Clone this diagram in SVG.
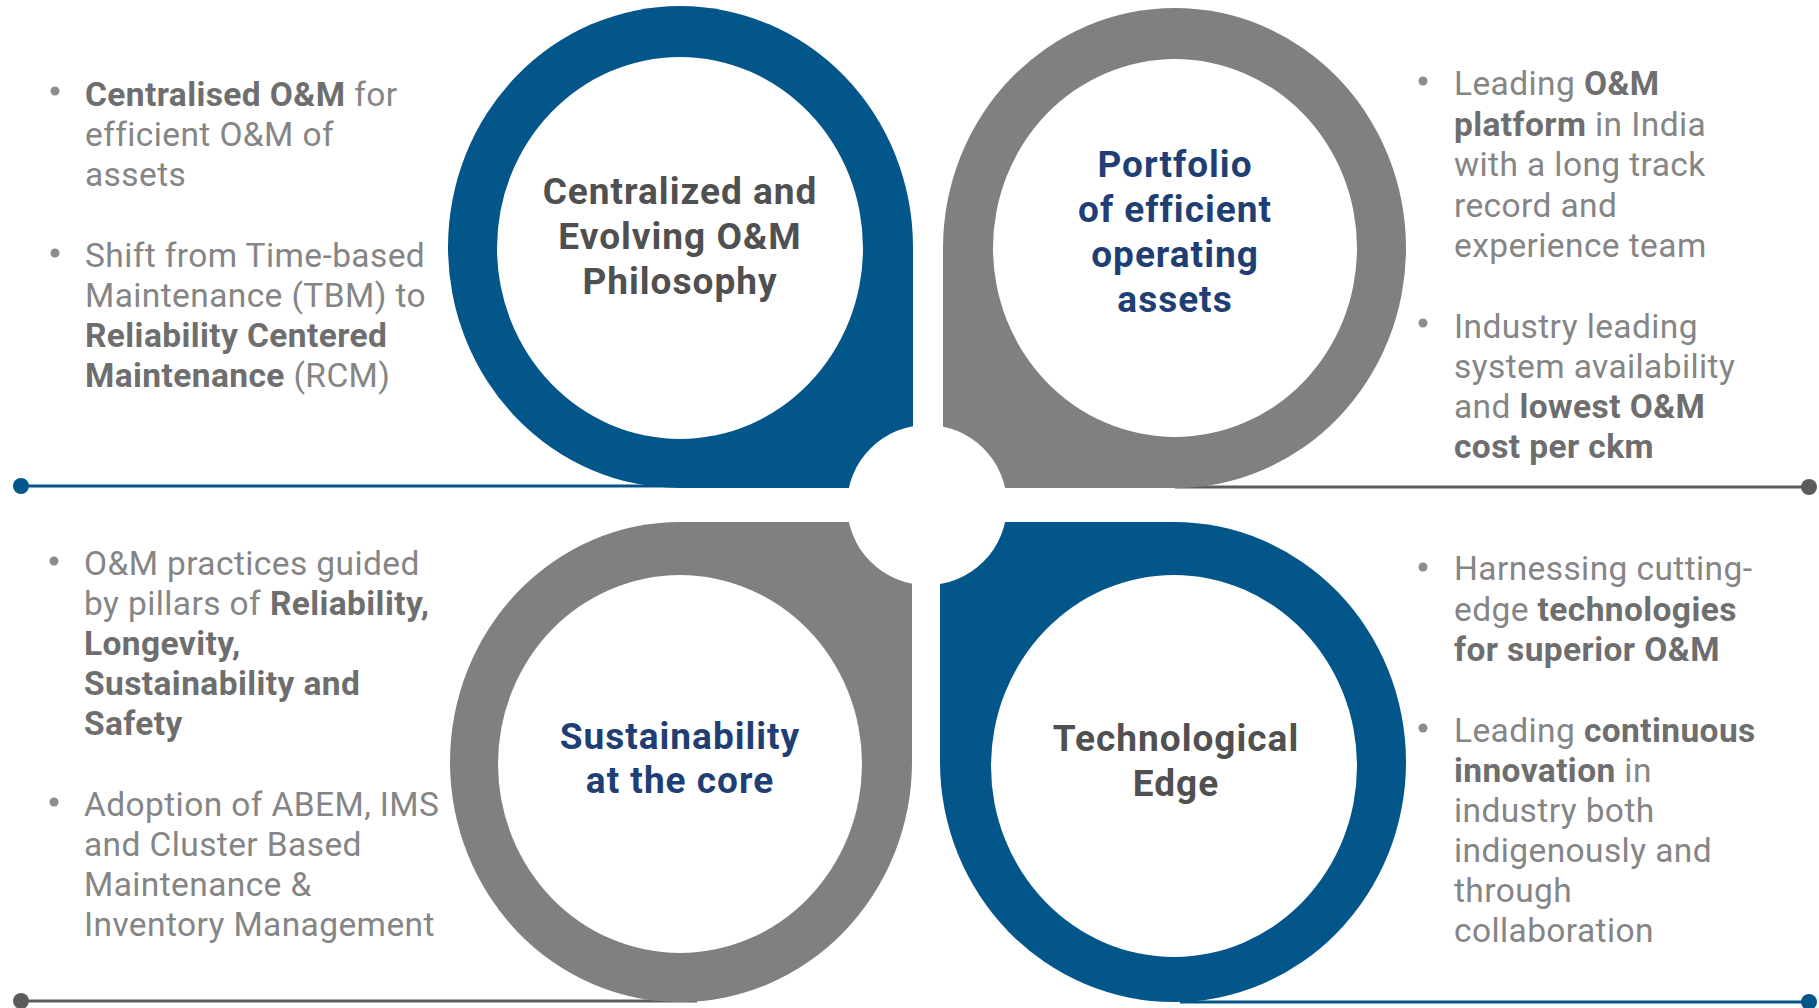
<svg xmlns="http://www.w3.org/2000/svg" width="1819" height="1008" viewBox="0 0 1819 1008">
<style>
.t{font-family:Roboto,"Liberation Sans",sans-serif;font-size:33.5px;letter-spacing:0.4px;fill:#858585;}
.b{font-weight:700;fill:#6e6e6e;}
.h{font-family:Roboto,"Liberation Sans",sans-serif;font-size:37px;letter-spacing:1px;font-weight:700;text-anchor:middle;}
.hg{fill:#505050;}
.hn{fill:#1f3f74;}
.blue{fill:#03568a;}
.gray{fill:#808080;}
.hole{fill:#ffffff;}
.dot{fill:#8c8c8c;}
.lb{stroke:#03568a;stroke-width:3;fill:none;}
.lg{stroke:#5c5c5c;stroke-width:3;fill:none;}
.eb{fill:#03568a;}
.eg{fill:#5c5c5c;}
</style>
<rect width="1819" height="1008" fill="#ffffff"/>
<g id="connectors">
  <line class="lb" x1="21" y1="486" x2="680" y2="486"/>
  <circle class="eb" cx="21" cy="486" r="8"/>
  <line class="lg" x1="1175" y1="487" x2="1809" y2="487"/>
  <circle class="eg" cx="1809" cy="487" r="8"/>
  <line class="lg" x1="21" y1="1001" x2="697" y2="1001"/>
  <circle class="eg" cx="21" cy="1001" r="8"/>
  <line class="lb" x1="1180" y1="1002" x2="1809" y2="1002"/>
  <circle class="eb" cx="1809" cy="1002" r="8"/>
</g>
<g id="node-centralized">
  <path class="blue" d="M680,6 A232,241 0 0 0 448,247 A232,241 0 0 0 680,488 L913,488 L913,247 A233,241 0 0 0 680,6 Z"/>
  <ellipse class="hole" cx="680" cy="248" rx="183" ry="191"/>
  <text class="h hg" x="680" y="204">Centralized and</text>
  <text class="h hg" x="680" y="249">Evolving O&amp;M</text>
  <text class="h hg" x="680" y="294">Philosophy</text>
</g>
<g id="node-portfolio">
  <path class="gray" d="M1175,8 A231,240 0 0 1 1406,248 A231,240 0 0 1 1175,488 L943,488 L943,248 A232,240 0 0 1 1175,8 Z"/>
  <ellipse class="hole" cx="1175" cy="248" rx="182" ry="189"/>
  <text class="h hn" x="1175" y="177">Portfolio</text>
  <text class="h hn" x="1175" y="222">of efficient</text>
  <text class="h hn" x="1175" y="267">operating</text>
  <text class="h hn" x="1175" y="312">assets</text>
</g>
<g id="node-sustainability">
  <path class="gray" d="M680,522 L912,522 L912,762 A232,240 0 0 1 680,1002 A230,240 0 0 1 450,762 A230,240 0 0 1 680,522 Z"/>
  <ellipse class="hole" cx="680" cy="764" rx="182" ry="189"/>
  <text class="h hn" x="680" y="749">Sustainability</text>
  <text class="h hn" x="680" y="793">at the core</text>
</g>
<g id="node-technological">
  <path class="blue" d="M940,522 L1174,522 A232,240 0 0 1 1406,762 A232,240 0 0 1 1174,1002 A234,240 0 0 1 940,762 Z"/>
  <ellipse class="hole" cx="1174" cy="766" rx="183" ry="191"/>
  <text class="h hg" x="1176" y="751">Technological</text>
  <text class="h hg" x="1176" y="796">Edge</text>
</g>
<g id="center-hub">
  <circle class="hole" cx="927" cy="505" r="80"/>
</g>
<g id="text-centralized">
  <circle class="dot" cx="55" cy="91" r="4.5"/>
  <text class="t" x="85" y="106"><tspan class="b">Centralised O&amp;M</tspan> for</text>
  <text class="t" x="85" y="146">efficient O&amp;M of</text>
  <text class="t" x="85" y="186">assets</text>
  <circle class="dot" cx="55" cy="253" r="4.5"/>
  <text class="t" x="85" y="267">Shift from Time-based</text>
  <text class="t" x="85" y="307">Maintenance (TBM) to</text>
  <text class="t" x="85" y="347"><tspan class="b">Reliability Centered</tspan></text>
  <text class="t" x="85" y="387"><tspan class="b">Maintenance</tspan> (RCM)</text>
</g>
<g id="text-portfolio">
  <circle class="dot" cx="1423" cy="81" r="4.5"/>
  <text class="t" x="1454" y="95">Leading <tspan class="b">O&amp;M</tspan></text>
  <text class="t" x="1454" y="135.5"><tspan class="b">platform</tspan> in India</text>
  <text class="t" x="1454" y="176">with a long track</text>
  <text class="t" x="1454" y="216.5">record and</text>
  <text class="t" x="1454" y="257">experience team</text>
  <circle class="dot" cx="1423" cy="323" r="4.5"/>
  <text class="t" x="1454" y="338">Industry leading</text>
  <text class="t" x="1454" y="378">system availability</text>
  <text class="t" x="1454" y="418">and <tspan class="b">lowest O&amp;M</tspan></text>
  <text class="t" x="1454" y="458"><tspan class="b">cost per ckm</tspan></text>
</g>
<g id="text-sustainability">
  <circle class="dot" cx="54" cy="561" r="4.5"/>
  <text class="t" x="84" y="575">O&amp;M practices guided</text>
  <text class="t" x="84" y="615">by pillars of <tspan class="b">Reliability,</tspan></text>
  <text class="t" x="84" y="655"><tspan class="b">Longevity,</tspan></text>
  <text class="t" x="84" y="695"><tspan class="b">Sustainability and</tspan></text>
  <text class="t" x="84" y="735"><tspan class="b">Safety</tspan></text>
  <circle class="dot" cx="54" cy="802" r="4.5"/>
  <text class="t" x="84" y="816">Adoption of ABEM, IMS</text>
  <text class="t" x="84" y="856">and Cluster Based</text>
  <text class="t" x="84" y="896">Maintenance &amp;</text>
  <text class="t" x="84" y="936">Inventory Management</text>
</g>
<g id="text-technological">
  <circle class="dot" cx="1423" cy="567" r="4.5"/>
  <text class="t" x="1454" y="580">Harnessing cutting-</text>
  <text class="t" x="1454" y="620.5">edge <tspan class="b">technologies</tspan></text>
  <text class="t" x="1454" y="661"><tspan class="b">for superior O&amp;M</tspan></text>
  <circle class="dot" cx="1423" cy="728" r="4.5"/>
  <text class="t" x="1454" y="742">Leading <tspan class="b">continuous</tspan></text>
  <text class="t" x="1454" y="782"><tspan class="b">innovation</tspan> in</text>
  <text class="t" x="1454" y="822">industry both</text>
  <text class="t" x="1454" y="862">indigenously and</text>
  <text class="t" x="1454" y="902">through</text>
  <text class="t" x="1454" y="942">collaboration</text>
</g>
</svg>
